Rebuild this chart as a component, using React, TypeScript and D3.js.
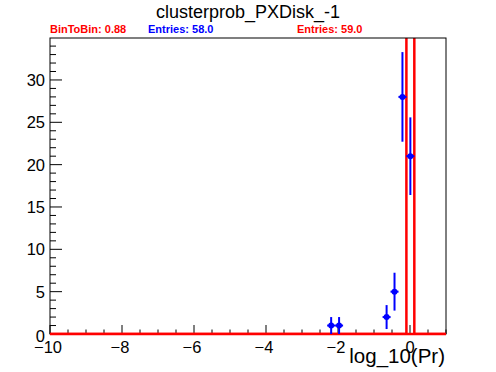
import { useEffect, useRef } from 'react';
import * as d3 from 'd3';

// histogram binning (50 bins over the axis range)
const xRange: [number, number] = [-10, 1];
const nBins = 50;

// reference histogram (blue points), non-empty bins only
const blueBins = [35, 36, 42, 43, 44, 45];
const blueCounts = [1, 1, 2, 5, 28, 21];

// new histogram (red line), non-empty bins only
const redBins = [45];
const redCounts = [59];

const xTicks = [-10, -8, -6, -4, -2, 0];
const yTicks = [0, 5, 10, 15, 20, 25, 30];

const statLabels = [
  { text: 'BinToBin: 0.88', color: '#ff0000' },
  { text: 'Entries: 58.0', color: '#0000ff' },
  { text: 'Entries: 59.0', color: '#ff0000' },
];

const App = () => {
  const svgRef = useRef<SVGSVGElement>(null);

  useEffect(() => {
    if (!svgRef.current) return;
    const svg = d3.select(svgRef.current);
    svg.selectAll('*').remove();

    const width = 496;
    const height = 372;
    const margin = { top: 38, right: 50, bottom: 38, left: 50 };
    const w = width - margin.left - margin.right;
    const h = height - margin.top - margin.bottom;
    const font = '"Liberation Sans", Arial, sans-serif';

    const binWidth = (xRange[1] - xRange[0]) / nBins;
    const yMax = d3.max(blueCounts.map(c => c + Math.sqrt(c)))! * 1.05;

    const x = d3.scaleLinear().domain(xRange).range([0, w]);
    const y = d3.scaleLinear().domain([0, yMax]).range([h, 0]);

    svg.attr('width', width).attr('height', height);

    // title
    svg.append('text')
      .attr('x', width / 2)
      .attr('y', 18)
      .attr('text-anchor', 'middle')
      .attr('font-family', font)
      .attr('font-size', 18)
      .text('clusterprob_PXDisk_-1');

    // stats line
    const statX = [50, 148, 297];
    statLabels.forEach((s, i) => {
      svg.append('text')
        .attr('x', statX[i])
        .attr('y', 32.5)
        .attr('font-family', font)
        .attr('font-size', 11)
        .attr('font-weight', 'bold')
        .attr('fill', s.color)
        .text(s.text);
    });

    const g = svg.append('g')
      .attr('transform', `translate(${margin.left},${margin.top})`);

    svg.append('defs').append('clipPath').attr('id', 'frame-clip')
      .append('rect').attr('x', 0).attr('y', 0).attr('width', w).attr('height', h);

    // ticks (ROOT style, inside the frame)
    const xMinor = d3.range(xRange[0], xRange[1] + 1e-9, 0.5);
    g.selectAll('.xminor').data(xMinor).enter().append('line')
      .attr('x1', d => x(d)).attr('x2', d => x(d))
      .attr('y1', h)
      .attr('y2', d => h - (xTicks.includes(d) ? 9 : 4.5))
      .attr('stroke', '#000');

    const yMinor = d3.range(0, Math.floor(yMax) + 1, 1);
    g.selectAll('.yminor').data(yMinor).enter().append('line')
      .attr('x1', 0)
      .attr('x2', d => (yTicks.includes(d) ? 12 : 6))
      .attr('y1', d => y(d)).attr('y2', d => y(d))
      .attr('stroke', '#000');

    // tick labels
    const fmt = d3.format('d');
    g.selectAll('.xlab').data(xTicks).enter().append('text')
      .attr('x', d => x(d) - (d === 0 ? 0 : 2))
      .attr('y', h + 19)
      .attr('text-anchor', 'middle')
      .attr('font-family', font)
      .attr('font-size', 16.5)
      .text(d => fmt(d));

    g.selectAll('.ylab').data(yTicks).enter().append('text')
      .attr('x', -5)
      .attr('y', d => y(d) + (d === 0 ? 2 : 0))
      .attr('dy', '0.36em')
      .attr('text-anchor', 'end')
      .attr('font-family', font)
      .attr('font-size', 16.5)
      .text(d => fmt(d));

    // axis title
    svg.append('text')
      .attr('x', margin.left + w - 1)
      .attr('y', 363)
      .attr('text-anchor', 'end')
      .attr('font-family', font)
      .attr('font-size', 20.5)
      .text('log_10(Pr)');

    // red histogram outline
    const redFull = d3.range(nBins).map(i => {
      const k = redBins.indexOf(i);
      return k >= 0 ? redCounts[k] : 0;
    });
    const pts: [number, number][] = [];
    redFull.forEach((v, i) => {
      const lo = xRange[0] + i * binWidth;
      pts.push([x(lo), y(v)], [x(lo + binWidth), y(v)]);
    });
    g.append('path')
      .attr('clip-path', 'url(#frame-clip)')
      .attr('d', d3.line()(pts))
      .attr('fill', 'none')
      .attr('stroke', '#ff0000')
      .attr('stroke-width', 2.5);

    // frame
    g.append('rect')
      .attr('width', w).attr('height', h)
      .attr('fill', 'none')
      .attr('stroke', '#000')
      .attr('stroke-width', 1);

    // redraw red baseline over the frame bottom
    g.append('line')
      .attr('x1', 0).attr('x2', w)
      .attr('y1', y(0)).attr('y2', y(0))
      .attr('stroke', '#ff0000')
      .attr('stroke-width', 2.5);

    // blue points with sqrt(N) errors
    const blue = blueBins.map((b, i) => ({
      cx: xRange[0] + (b + 0.5) * binWidth,
      v: blueCounts[i],
      e: Math.sqrt(blueCounts[i]),
    }));
    const pg = g.append('g').attr('fill', '#0000ff').attr('stroke', '#0000ff');
    pg.selectAll('.err').data(blue).enter().append('line')
      .attr('x1', d => x(d.cx)).attr('x2', d => x(d.cx))
      .attr('y1', d => y(d.v - d.e)).attr('y2', d => y(d.v + d.e))
      .attr('stroke-width', 2);
    pg.selectAll('.hbar').data(blue).enter().append('line')
      .attr('x1', d => x(d.cx) - 4).attr('x2', d => x(d.cx) + 4)
      .attr('y1', d => y(d.v)).attr('y2', d => y(d.v))
      .attr('stroke-width', 2);
    pg.selectAll('.pt').data(blue).enter().append('circle')
      .attr('cx', d => x(d.cx))
      .attr('cy', d => y(d.v))
      .attr('r', 3)
      .attr('stroke', 'none');
  }, []);

  return (
    <svg
      ref={svgRef}
      style={{ position: 'absolute', left: 0, top: 0, background: '#fff' }}
    />
  );
};

export default App;
